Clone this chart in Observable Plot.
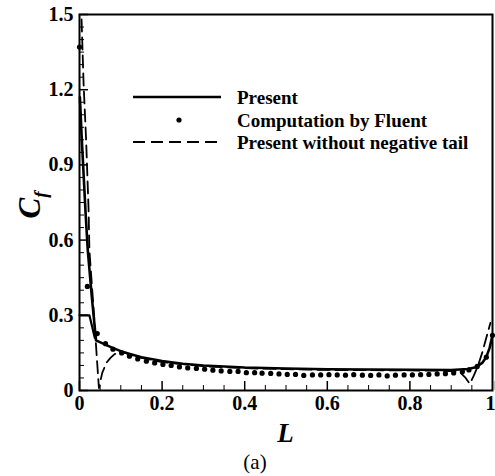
<!DOCTYPE html>
<html>
<head>
<meta charset="utf-8">
<script src="https://cdn.jsdelivr.net/npm/d3@7"></script>
<script src="https://cdn.jsdelivr.net/npm/@observablehq/plot@0.6"></script>
<style>
  html, body { margin: 0; padding: 0; background: #fff; }
  #wrap { position: relative; width: 495px; height: 476px; font-family: "Liberation Serif", serif; }
  #cap { position: absolute; left: 225px; width: 60px; top: 450px; text-align: center; font-size: 21px; line-height: 24px; }
</style>
</head>
<body>
<div id="wrap"></div>
<script>
// ---- Data ----
const xMajor = [0, 0.2, 0.4, 0.6, 0.8];
const xEnd = [1];
const xMinor = [0.05,0.1,0.15,0.25,0.3,0.35,0.45,0.5,0.55,0.65,0.7,0.75,0.85,0.9,0.95];
const yMajor = [0, 0.3, 0.6, 0.9, 1.2, 1.5];
const yMinor = [0.05,0.1,0.15,0.2,0.25,0.35,0.4,0.45,0.5,0.55,0.65,0.7,0.75,0.8,0.85,0.95,1.0,1.05,1.1,1.15,1.25,1.3,1.35,1.4,1.45];

// "Present" (solid)
const presentL = [0.001,0.005,0.01,0.015,0.02,0.03,0.04,0.06,0.08,0.1,0.12,0.15,0.2,0.25,0.3,0.4,0.5,0.6,0.7,0.8,0.9,0.94,0.96,0.975,0.985,0.993,1.0];
const presentC = [1.17,1.02,0.86,0.70,0.56,0.37,0.20,0.185,0.17,0.157,0.147,0.133,0.118,0.107,0.1,0.092,0.088,0.085,0.084,0.083,0.082,0.086,0.093,0.11,0.133,0.17,0.22];
// short starting segment of "Present" at 0.3
const presentStartL = [0, 0.024, 0.037];
const presentStartC = [0.30, 0.30, 0.21];

// "Present without negative tail" (dashed)
const noTailL = [0.005,0.01,0.016,0.022,0.024,0.03,0.036,0.042,0.047,0.055,0.065,0.075,0.085,0.095,0.11,0.15,0.2,0.3,0.4,0.5,0.6,0.7,0.8,0.88,0.92,0.935,0.945,0.955,0.965,0.975,0.985,0.995];
const noTailC = [1.48,1.22,1.0,0.72,0.56,0.42,0.28,0.13,0.01,0.07,0.11,0.13,0.145,0.152,0.15,0.13,0.113,0.097,0.089,0.085,0.082,0.081,0.08,0.079,0.075,0.05,0.027,0.06,0.1,0.15,0.21,0.27];

// "Computation by Fluent" (dots)
const fluentL = [0,0.019,0.043,0.063,0.081,0.102,0.121,0.141,0.162,0.182,0.202,0.222,0.242,0.262,0.283,0.303,0.323,0.343,0.364,0.384,0.404,0.424,
  0.442,0.463,0.483,0.503,0.523,0.543,0.564,0.584,0.604,0.624,0.644,0.664,0.685,0.705,0.725,0.745,0.765,0.786,0.806,0.826,0.846,0.866,0.886,0.906,0.927,0.943,0.963,0.985,1.0];
const fluentC = [1.37,0.415,0.227,0.187,0.165,0.15,0.137,0.126,0.117,0.11,0.104,0.1,0.094,0.09,0.088,0.085,0.081,0.078,0.076,0.076,0.071,0.071,
  0.069,0.068,0.066,0.064,0.064,0.06,0.062,0.062,0.063,0.062,0.061,0.063,0.061,0.06,0.062,0.058,0.061,0.062,0.062,0.063,0.064,0.066,0.067,0.07,0.075,0.082,0.096,0.133,0.22];

const legendLabels = ["Present", "Computation by Fluent", "Present without negative tail"];

// ---- Build tables ----
const present = presentL.map((L, i) => ({L, C: presentC[i]}));
const presentStart = presentStartL.map((L, i) => ({L, C: presentStartC[i]}));
const noTail = noTailL.map((L, i) => ({L, C: noTailC[i]}));
const fluent = fluentL.map((L, i) => ({L, C: fluentC[i]}));

const fmt = d => d === 0 ? "0" : (d === 1 ? "1" : d3.format(".1f")(d));
const tickFont = {fontSize: 20, fontWeight: "bold", fontFamily: "Liberation Serif"};

const W = 495, H = 450, mL = 79, mR = 3, mT = 14, mB = 60;

const svg = Plot.plot({
  width: W, height: H,
  marginLeft: mL, marginRight: mR, marginTop: mT, marginBottom: mB,
  style: {fontFamily: "Liberation Serif", background: "white", color: "black"},
  x: {domain: [0, 1], label: null},
  y: {domain: [0, 1.5], label: null},
  marks: [
    Plot.line(presentStart, {x: "L", y: "C", stroke: "black", strokeWidth: 2.2}),
    Plot.line(present, {x: "L", y: "C", stroke: "black", strokeWidth: 2.6}),
    Plot.line(noTail, {x: "L", y: "C", stroke: "black", strokeWidth: 1.8, strokeDasharray: "12,6"}),
    Plot.dot(fluent, {x: "L", y: "C", r: 2.6, fill: "black", stroke: "none"}),
    Plot.axisX({ticks: xMinor, tickSize: -5, tickFormat: () => "", label: null, strokeWidth: 1}),
    Plot.axisY({ticks: yMinor, tickSize: -5, tickFormat: () => "", label: null, strokeWidth: 1}),
    Plot.axisX({ticks: xMajor, tickSize: -9, tickPadding: 14, tickFormat: fmt, label: null, strokeWidth: 1.5, ...tickFont}),
    Plot.axisX({ticks: xEnd, tickSize: -9, tickPadding: 14, tickFormat: fmt, label: null, strokeWidth: 1.5, textAnchor: "end", dx: 3, ...tickFont}),
    Plot.axisY({ticks: yMajor, tickSize: -9, tickPadding: 15, tickFormat: fmt, label: null, strokeWidth: 1.5, ...tickFont}),
    Plot.frame({stroke: "black", strokeWidth: 2})
  ]
});

const s = d3.select(svg);
// x-axis label
s.append("text")
  .attr("x", (mL + W - mR) / 2).attr("y", 442)
  .attr("text-anchor", "middle")
  .attr("font-family", "Liberation Serif").attr("font-weight", "bold").attr("font-style", "italic")
  .attr("font-size", 27).attr("fill", "black")
  .text("L");
// y-axis label C_f
const yl = s.append("text")
  .attr("transform", `translate(40,${(mT + H - mB) / 2 + 3}) rotate(-90)`)
  .attr("text-anchor", "middle")
  .attr("font-family", "Liberation Serif").attr("font-weight", "bold").attr("font-style", "italic")
  .attr("fill", "black");
yl.append("tspan").attr("font-size", 31).text("C");
yl.append("tspan").attr("font-size", 19).attr("dy", 7).text("f");

// legend
const lg = s.append("g").attr("font-family", "Liberation Serif").attr("font-weight", "bold").attr("font-size", 19).attr("fill", "black").attr("text-anchor", "start");
const rowY = [97, 120, 142];
lg.append("line").attr("x1", 133).attr("x2", 221).attr("y1", rowY[0]).attr("y2", rowY[0]).attr("stroke", "black").attr("stroke-width", 2.4);
lg.append("circle").attr("cx", 179).attr("cy", rowY[1]).attr("r", 2.6).attr("fill", "black");
lg.append("line").attr("x1", 133).attr("x2", 221).attr("y1", rowY[2]).attr("y2", rowY[2]).attr("stroke", "black").attr("stroke-width", 1.8).attr("stroke-dasharray", "12,6");
legendLabels.forEach((t, i) => {
  lg.append("text").attr("x", 237).attr("y", rowY[i]).attr("dy", "0.35em").attr("text-anchor", "start").text(t);
});

const wrap = document.getElementById("wrap");
wrap.appendChild(svg);
const cap = document.createElement("div");
cap.id = "cap";
cap.textContent = "(a)";
wrap.appendChild(cap);
</script>
</body>
</html>
